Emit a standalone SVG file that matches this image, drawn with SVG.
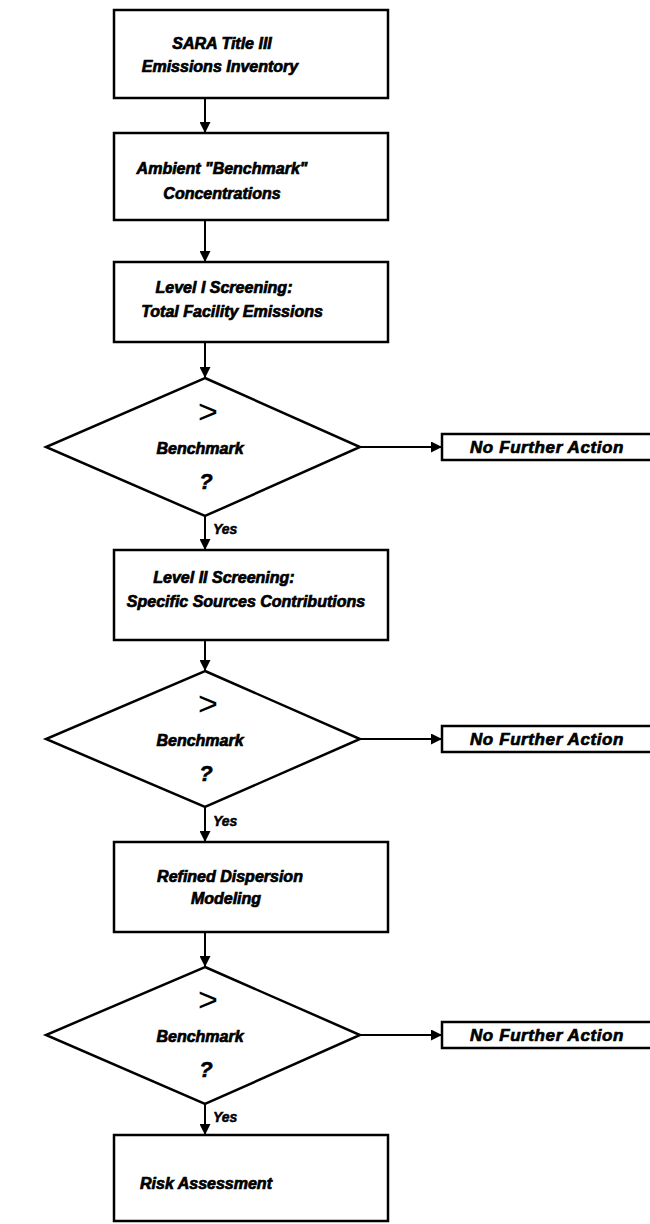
<svg xmlns="http://www.w3.org/2000/svg" width="650" height="1224" viewBox="0 0 650 1224">
<defs>
<marker id="ah" viewBox="0 0 10 10" refX="10" refY="5" markerWidth="11" markerHeight="11" markerUnits="userSpaceOnUse" orient="auto">
<path d="M0,0 L10,5 L0,10 Z" fill="#000"/>
</marker>
<style>
.box{fill:#fff;stroke:#000;stroke-width:2.5}
.dia{fill:#fff;stroke:#000;stroke-width:2.5}
.t{font-family:"Liberation Sans",Arial,sans-serif;font-weight:bold;font-style:italic;font-size:16px;fill:#000;stroke:#000;stroke-width:0.7;text-anchor:middle}
.nfa{font-family:"Liberation Sans",Arial,sans-serif;font-weight:bold;font-style:italic;font-size:17px;letter-spacing:0.6px;fill:#000;stroke:#000;stroke-width:0.7;text-anchor:middle}
.gt{font-family:"Liberation Sans",Arial,sans-serif;font-size:34px;fill:#000;text-anchor:middle}
.q{font-family:"Liberation Sans",Arial,sans-serif;font-weight:bold;font-style:italic;font-size:22px;fill:#000;stroke:#000;stroke-width:0.6;text-anchor:middle}
.y{font-family:"Liberation Sans",Arial,sans-serif;font-weight:bold;font-style:italic;font-size:14px;fill:#000;stroke:#000;stroke-width:0.5}
.c{fill:none;stroke:#000;stroke-width:2;marker-end:url(#ah)}
</style>
</defs>
<rect width="650" height="1224" fill="#fff"/>

<g id="connectors">
<line class="c" x1="205" y1="98" x2="205" y2="133"/>
<line class="c" x1="205" y1="220" x2="205" y2="262"/>
<line class="c" x1="205" y1="342" x2="205" y2="378"/>
<line class="c" x1="360" y1="447" x2="442" y2="447"/>
<line class="c" x1="205" y1="516" x2="205" y2="550"/>
<line class="c" x1="205" y1="640" x2="205" y2="671"/>
<line class="c" x1="360" y1="739" x2="442" y2="739"/>
<line class="c" x1="205" y1="807" x2="205" y2="842"/>
<line class="c" x1="205" y1="932" x2="205" y2="967"/>
<line class="c" x1="360" y1="1035" x2="442" y2="1035"/>
<line class="c" x1="205" y1="1104" x2="205" y2="1135"/>
<text class="y" x="213" y="534">Yes</text>
<text class="y" x="213" y="826">Yes</text>
<text class="y" x="213" y="1122">Yes</text>
</g>

<g id="n1">
<rect class="box" x="114" y="10" width="274" height="88"/>
<text class="t" x="222" y="49">SARA Title III</text>
<text class="t" x="220" y="72">Emissions Inventory</text>
</g>

<g id="n2">
<rect class="box" x="114" y="133" width="274" height="87"/>
<text class="t" x="222" y="174">Ambient "Benchmark"</text>
<text class="t" x="222" y="199">Concentrations</text>
</g>

<g id="n3">
<rect class="box" x="114" y="262" width="274" height="80"/>
<text class="t" x="224" y="293">Level I Screening:</text>
<text class="t" x="232" y="317">Total Facility Emissions</text>
</g>

<g id="d1">
<polygon class="dia" points="205,378 360,447 205,516 46,447"/>
<text class="gt" x="208" y="423">&gt;</text>
<text class="t" x="200" y="454">Benchmark</text>
<text class="q" x="206" y="489">?</text>
</g>

<g id="nfa1">
<path class="box" d="M660,434 L442,434 L442,460 L660,460"/>
<text class="nfa" x="547" y="453">No Further Action</text>
</g>

<g id="n4">
<rect class="box" x="114" y="550" width="274" height="90"/>
<text class="t" x="224" y="583">Level II Screening:</text>
<text class="t" x="246" y="607">Specific Sources Contributions</text>
</g>

<g id="d2">
<polygon class="dia" points="205,671 360,739 205,807 46,739"/>
<text class="gt" x="208" y="715">&gt;</text>
<text class="t" x="200" y="746">Benchmark</text>
<text class="q" x="206" y="781">?</text>
</g>

<g id="nfa2">
<path class="box" d="M660,726 L442,726 L442,752 L660,752"/>
<text class="nfa" x="547" y="745">No Further Action</text>
</g>

<g id="n5">
<rect class="box" x="114" y="842" width="274" height="90"/>
<text class="t" x="230" y="882">Refined Dispersion</text>
<text class="t" x="226" y="904">Modeling</text>
</g>

<g id="d3">
<polygon class="dia" points="205,967 360,1035 205,1104 46,1035"/>
<text class="gt" x="208" y="1011">&gt;</text>
<text class="t" x="200" y="1042">Benchmark</text>
<text class="q" x="206" y="1077">?</text>
</g>

<g id="nfa3">
<path class="box" d="M660,1022 L442,1022 L442,1048 L660,1048"/>
<text class="nfa" x="547" y="1041">No Further Action</text>
</g>

<g id="n6">
<rect class="box" x="114" y="1135" width="274" height="86"/>
<text class="t" x="206" y="1189">Risk Assessment</text>
</g>
</svg>
